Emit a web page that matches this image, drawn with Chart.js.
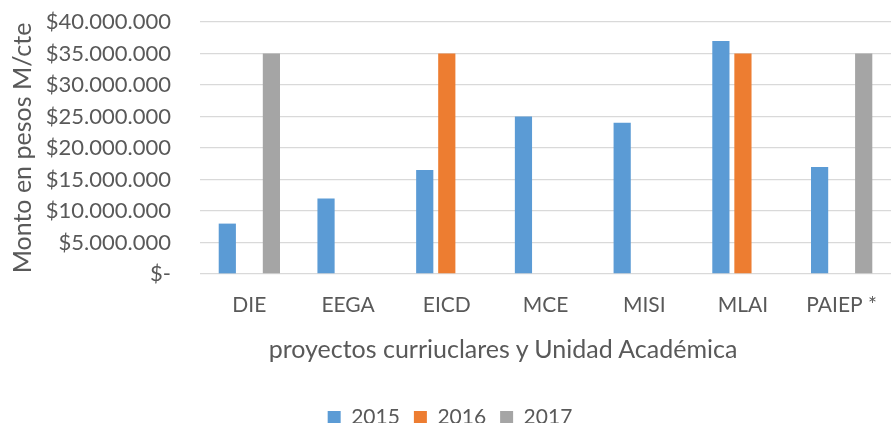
<!DOCTYPE html>
<html>
<head>
<meta charset="utf-8">
<script src="https://cdn.jsdelivr.net/npm/chart.js@4.4.1/dist/chart.umd.min.js"></script>
<style>
    html, body { margin: 0; padding: 0; background: #fff; overflow: hidden; }
    #wrap { position: relative; width: 896px; height: 423px; }
    #xTitle {
        position: absolute; left: 503px; top: 333px; transform: translateX(-50%);
        font: 25px Lato, sans-serif; color: #595959; white-space: nowrap;
    }
</style>
</head>
<body>
<div id="wrap">
    <canvas id="chart" width="896" height="423"></canvas>
    <div id="xTitle">proyectos curriuclares y Unidad Académica</div>
</div>
<script>
const categories = ['DIE', 'EEGA', 'EICD', 'MCE', 'MISI', 'MLAI', 'PAIEP *'];
const years = ['2015', '2016', '2017'];
const values2015 = [8000000, 12000000, 16500000, 25000000, 24000000, 37000000, 17000000];
const values2016 = [null, null, 35000000, null, null, 35000000, null];
const values2017 = [35000000, null, null, null, null, null, 35000000];
const colors = ['#5B9BD5', '#ED7D31', '#A5A5A5'];
const yMax = 40000000;
const yStep = 5000000;

const textColor = '#595959';
const fontName = 'Lato';

function formatPesos(v) {
    if (v === 0) return '$-';
    return '$' + String(v).replace(/\B(?=(\d{3})+(?!\d))/g, '.');
}

const seriesValues = [values2015, values2016, values2017];

new Chart(document.getElementById('chart'), {
    type: 'bar',
    data: {
        labels: categories,
        datasets: years.map((year, i) => ({
            label: year,
            data: seriesValues[i],
            backgroundColor: colors[i],
            categoryPercentage: 0.67,
            barPercentage: 0.78
        }))
    },
    options: {
        responsive: false,
        animation: false,
        devicePixelRatio: 1,
        layout: { padding: { left: 4, top: 22, right: 0, bottom: -15 } },
        plugins: {
            legend: {
                position: 'bottom',
                labels: {
                    boxWidth: 13,
                    boxHeight: 13,
                    padding: 14,
                    color: textColor,
                    font: { family: fontName, size: 21 }
                }
            },
            tooltip: { enabled: false }
        },
        scales: {
            x: {
                grid: { display: false, drawTicks: false },
                border: { display: false },
                ticks: {
                    color: textColor,
                    padding: 19,
                    font: { family: fontName, size: 21 }
                },
                afterFit: scale => { scale.height = 119; }
            },
            y: {
                min: 0,
                max: yMax,
                grid: {
                    color: '#d9d9d9',
                    lineWidth: 1.3,
                    drawTicks: true,
                    tickLength: 26,
                    tickColor: 'rgba(0,0,0,0)'
                },
                border: { display: false },
                ticks: {
                    stepSize: yStep,
                    padding: 3,
                    color: textColor,
                    font: { family: fontName, size: 22 },
                    callback: v => formatPesos(v)
                },
                title: {
                    display: true,
                    text: 'Monto en pesos M/cte',
                    color: textColor,
                    font: { family: fontName, size: 25 }
                },
                afterFit: scale => { scale.width = 196; }
            }
        }
    }
});
</script>
</body>
</html>
